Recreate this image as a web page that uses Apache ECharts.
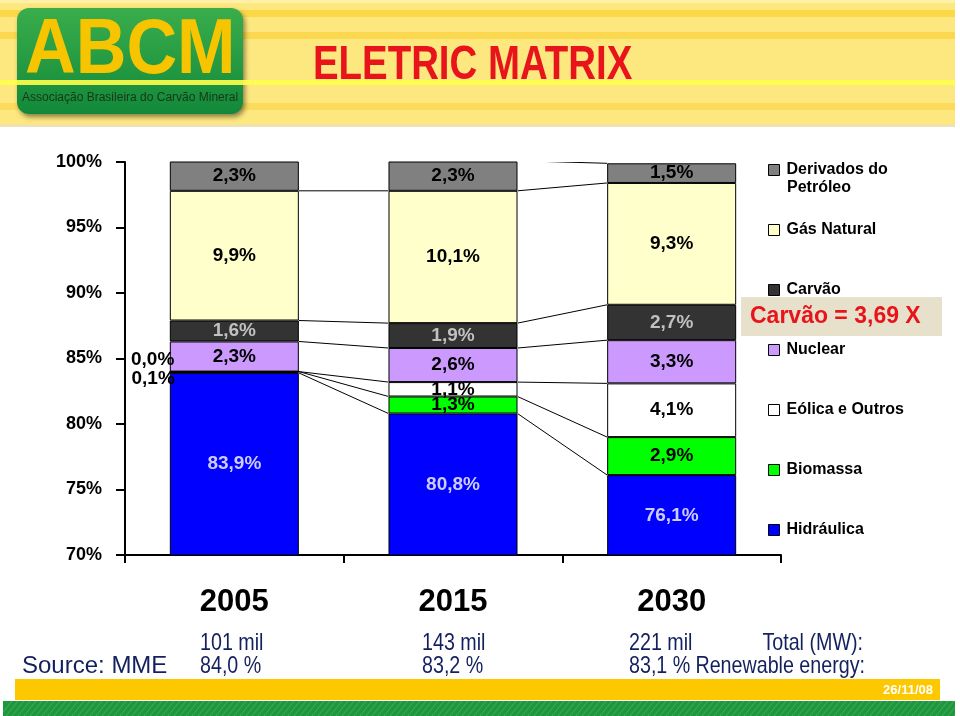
<!DOCTYPE html>
<html><head><meta charset="utf-8">
<script src="https://cdn.jsdelivr.net/npm/echarts/dist/echarts.min.js"></script>
<style>html,body{margin:0;padding:0;background:#fff}#c{width:960px;height:716px}</style>
</head><body><div id="c"></div>
<script>
// ---- data ----
const categories = ['2005', '2015', '2030'];
const seriesNames = ['Hidráulica', 'Biomassa', 'Eólica e Outros', 'Nuclear', 'Carvão', 'Gás Natural', 'Derivados do Petróleo'];
const hidraulica = [83.9, 80.8, 76.1];
const biomassa   = [0.1, 1.3, 2.9];
const eolica     = [0.0, 1.1, 4.1];
const nuclear    = [2.3, 2.6, 3.3];
const carvao     = [1.6, 1.9, 2.7];
const gasNatural = [9.9, 10.1, 9.3];
const derivados  = [2.3, 2.3, 1.5];
const yMin = 70, yMax = 100, yInterval = 5;
const totalMW = ['101 mil', '143 mil', '221 mil'];
const renewableShare = ['84,0 %', '83,2 %', '83,1 %'];

// ---- styles ----
const FONT = "'Liberation Sans', Arial, sans-serif";
const NARROW = "'Liberation Sans Narrow', 'Arial Narrow', 'Liberation Sans', sans-serif";
const colors = ['#0000ff', '#00ff00', '#ffffff', '#cc99ff', '#333333', '#ffffcc', '#808080'];
const labelColors = ['#ccccff', '#000', '#000', '#000', '#c0c0c0', '#000', '#000'];
const BAR_RATIO = 0.59;
const values = [hidraulica, biomassa, eolica, nuclear, carvao, gasNatural, derivados];
const fmt = v => v.toFixed(1).replace('.', ',') + '%';
// labels of tiny 2005 segments are placed outside, left of the bar
const outsideLabel = { 1: { 0: [0, 7] }, 2: { 0: [0, -12] } };

const series = values.map((arr, k) => ({
  name: seriesNames[k], type: 'bar', stack: 'total', barWidth: (BAR_RATIO * 100) + '%',
  itemStyle: { color: colors[k], borderColor: '#000', borderWidth: 1 },
  emphasis: { disabled: true },
  label: { show: true, position: 'inside', formatter: p => fmt(p.value), color: labelColors[k],
           fontFamily: FONT, fontWeight: 'bold', fontSize: 19, textBorderWidth: 0 },
  data: arr.map((v, i) => (outsideLabel[k] && outsideLabel[k][i])
    ? { value: v, label: { position: 'left', distance: -5, offset: outsideLabel[k][i], color: '#000' } }
    : v)
}));

// series lines (connectors between tops of each segment)
const cum = categories.map((_, i) => { let s = 0; return values.map(arr => (s += arr[i])); });
const connectorData = [];
for (let i = 0; i < categories.length - 1; i++)
  for (let k = 0; k < values.length; k++) connectorData.push([i, cum[i][k], cum[i + 1][k]]);

series.push({
  type: 'custom', name: 'connectors', silent: true, clip: true, z: 1,
  data: connectorData, encode: { x: 0, y: [1, 2] },
  renderItem: (params, api) => {
    const i = api.value(0);
    const a = api.coord([i, api.value(1)]);
    const b = api.coord([i + 1, api.value(2)]);
    const half = api.size([1, 0])[0] * BAR_RATIO / 2;
    return { type: 'line', shape: { x1: a[0] + half, y1: a[1], x2: b[0] - half, y2: b[1] },
             style: { stroke: '#000', lineWidth: 1 } };
  }
});

function txt(x, y, text, font, fill, align, sx) {
  return { type: 'text', x: x, y: y, scaleX: sx || 1, z: 10,
    style: { text: text, font: font, fill: fill, align: align || 'left', textAlign: align || 'left',
             verticalAlign: 'middle', textVerticalAlign: 'middle' } };
}

const navy = '#14205e';
const bottomX = [200, 422, 629];
const graphics = [
  // header band
  { type: 'rect', shape: { x: 0, y: 0, width: 955, height: 125 }, style: { fill: '#fde77f' } },
  { type: 'rect', shape: { x: 0, y: 0, width: 955, height: 3 }, style: { fill: '#fff0a8' } },
  { type: 'rect', shape: { x: 0, y: 10, width: 955, height: 7 }, style: { fill: '#fcd748' } },
  { type: 'rect', shape: { x: 0, y: 32, width: 955, height: 7 }, style: { fill: '#fcd850' } },
  { type: 'rect', shape: { x: 0, y: 103, width: 955, height: 7 }, style: { fill: '#fcdb5c' } },
  { type: 'rect', shape: { x: 0, y: 124, width: 955, height: 3 }, style: { fill: '#efe2b0' } },
  // logo
  { type: 'rect', shape: { x: 17, y: 8, width: 226, height: 106, r: 12 },
    style: { fill: { type: 'linear', x: 0, y: 0, x2: 0, y2: 1,
      colorStops: [{ offset: 0, color: '#3aad4b' }, { offset: 1, color: '#12893a' }] },
      shadowBlur: 5, shadowColor: 'rgba(0,0,0,0.45)', shadowOffsetX: 2, shadowOffsetY: 3 } },
  { type: 'rect', shape: { x: 0, y: 80, width: 955, height: 5 }, style: { fill: '#ffff4c', opacity: 0.9 } },
  txt(25, 51, 'ABCM', 'bold 78px ' + FONT, '#f7c400', 'left', 0.9),
  txt(22, 98, 'Associação Brasileira do Carvão Mineral', '12px ' + FONT, '#17361a'),
  // title
  txt(313, 66, 'ELETRIC MATRIX', 'bold 48px ' + FONT, '#e8141b', 'left', 0.8),
  // legend second line and coal annotation
  txt(787, 188, 'Petróleo', 'bold 16px ' + FONT, '#000'),
  { type: 'rect', shape: { x: 741, y: 297, width: 201, height: 39 }, style: { fill: '#e7e0cb' } },
  txt(750, 317, 'Carvão = 3,69 X', 'bold 23px ' + FONT, '#e8141b'),
  // bottom notes
  txt(22, 666, 'Source: MME', '24px ' + FONT, navy),
  txt(863, 643, 'Total (MW):', '24px ' + FONT, navy, 'right', 0.82),
  txt(865, 666, 'Renewable energy:', '24px ' + FONT, navy, 'right', 0.82),
  // footer bars
  { type: 'rect', shape: { x: 15, y: 679, width: 925, height: 21 }, style: { fill: '#fdc800' } },
  txt(933, 690, '26/11/08', 'bold 13px ' + FONT, '#ffffff', 'right'),
  { type: 'rect', shape: { x: 3, y: 701, width: 952, height: 15 }, style: { fill: '#1f973c' } }
];
categories.forEach((c, i) => {
  graphics.push(txt(bottomX[i], 643, totalMW[i], '24px ' + FONT, navy, 'left', 0.82));
  graphics.push(txt(bottomX[i], 666, renewableShare[i], '24px ' + FONT, navy, 'left', 0.82));
});
// diagonal hatch on the green footer bar
for (let x = 0; x < 960; x += 6) {
  graphics.push({ type: 'line', shape: { x1: x, y1: 716, x2: x + 12, y2: 701 },
    style: { stroke: 'rgba(255,255,255,0.18)', lineWidth: 1 } });
}

const chart = echarts.init(document.getElementById('c'), null, { renderer: 'canvas' });
chart.setOption({
  animation: false,
  backgroundColor: '#ffffff',
  grid: { left: 125, right: 179, top: 162, bottom: 161, containLabel: false },
  xAxis: {
    type: 'category', data: categories,
    axisLine: { lineStyle: { color: '#000', width: 2 } },
    axisTick: { show: true, length: 8, lineStyle: { color: '#000', width: 2 } },
    axisLabel: { fontFamily: NARROW, fontWeight: 'bold', fontSize: 31, color: '#000', margin: 32 }
  },
  yAxis: {
    type: 'value', min: yMin, max: yMax, interval: yInterval,
    axisLine: { show: true, lineStyle: { color: '#000', width: 2 } },
    axisTick: { show: true, length: 9, lineStyle: { color: '#000', width: 2 } },
    axisLabel: { formatter: '{value}%', fontFamily: FONT, fontWeight: 'bold', fontSize: 18, color: '#000', margin: 23 },
    splitLine: { show: false }
  },
  legend: {
    orient: 'vertical', left: 768, top: 162, padding: 0, itemWidth: 11, itemHeight: 11, itemGap: 44,
    icon: 'rect', selectedMode: false,
    data: seriesNames.slice().reverse(),
    formatter: n => n === 'Derivados do Petróleo' ? 'Derivados do' : n,
    itemStyle: { borderColor: '#000', borderWidth: 1 },
    textStyle: { fontFamily: FONT, fontWeight: 'bold', fontSize: 16, lineHeight: 16, color: '#000', padding: [0, 0, 0, 2] }
  },
  graphic: graphics,
  series: series
});
</script></body></html>
